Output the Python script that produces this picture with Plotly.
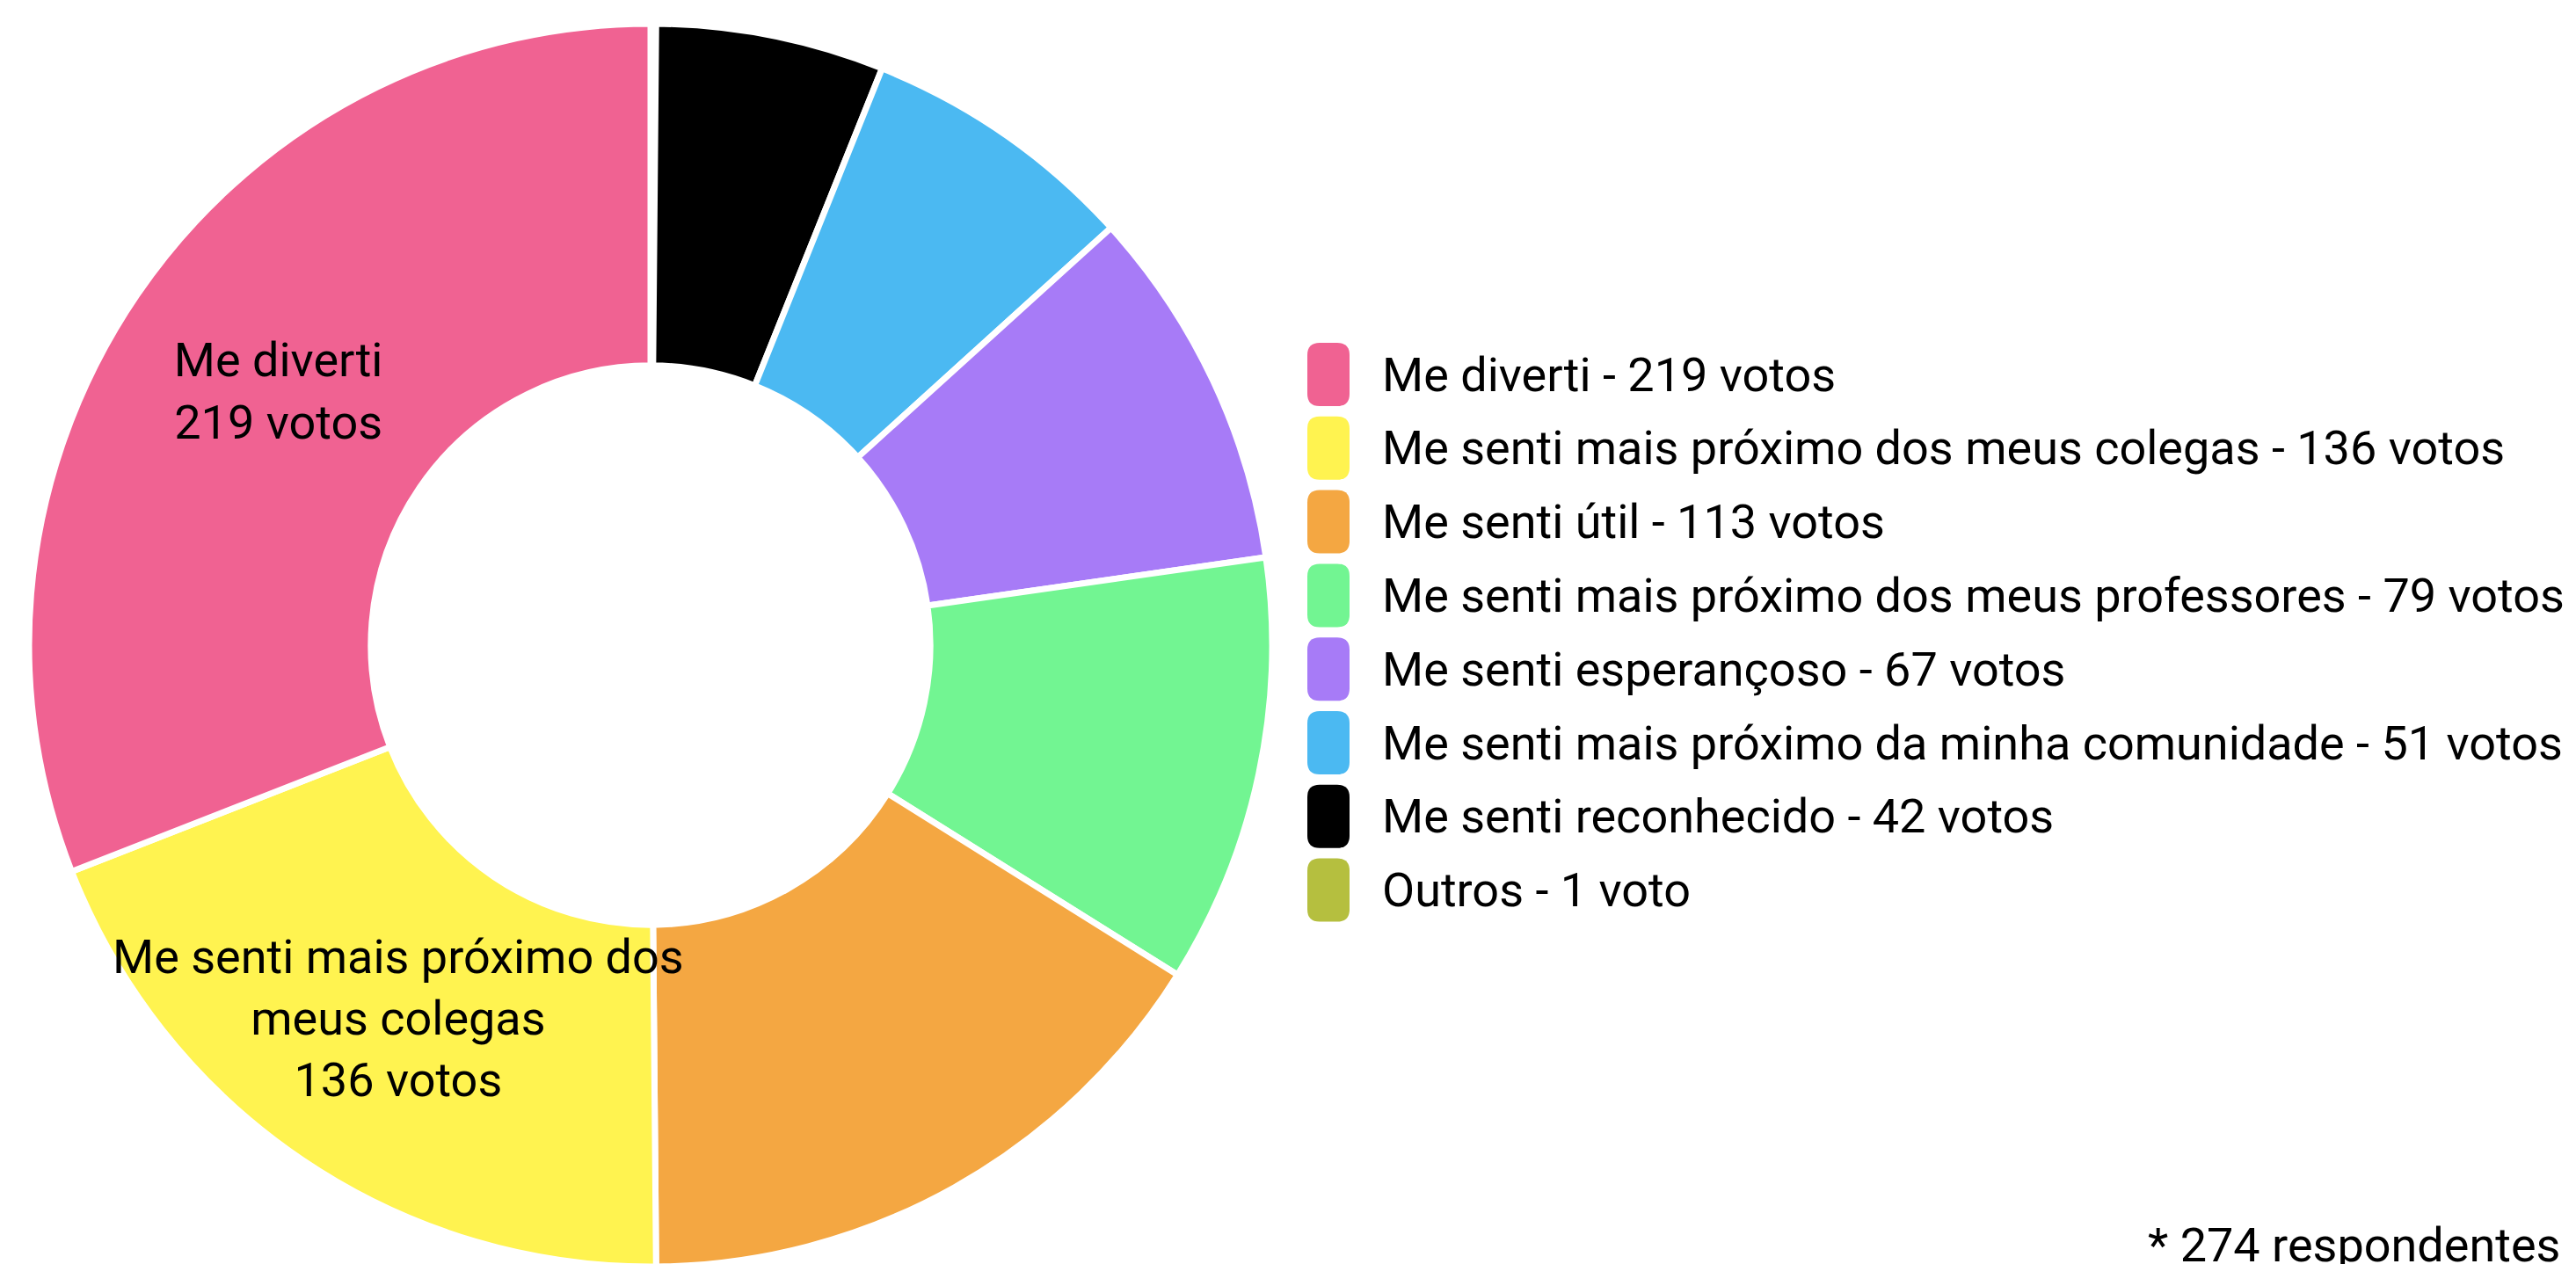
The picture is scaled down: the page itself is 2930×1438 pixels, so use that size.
import plotly.graph_objects as go

# Survey answers, largest first
categorias = [
    "Me diverti",
    "Me senti mais próximo dos meus colegas",
    "Me senti útil",
    "Me senti mais próximo dos meus professores",
    "Me senti esperançoso",
    "Me senti mais próximo da minha comunidade",
    "Me senti reconhecido",
    "Outros",
]
votos = [219, 136, 113, 79, 67, 51, 42, 1]
cores = ["#F06292", "#FFF350", "#F4A742", "#72F592", "#A77BF7", "#4BB9F2", "#000000", "#B5BF3F"]
# Labels written inside the ring (empty = no label on that slice)
rotulos_internos = ["Me diverti", "Me senti mais próximo dos<br>meus colegas", "", "", "", "", "", ""]
nota = "* 274 respondentes"

W, H = 2930, 1470
FONTE = "Roboto"
TAM = 54


def unidade(v):
    return "voto" if v == 1 else "votos"


textos = [f"{r}<br>{v} {unidade(v)}" if r else "" for r, v in zip(rotulos_internos, votos)]
legendas = [f"{c} - {v} {unidade(v)}" for c, v in zip(categorias, votos)]

# Ring placement in pixels (from the top-left corner)
cx, cy, raio = 740, 734, 707
dom_x = [(cx - raio) / W, (cx + raio) / W]
dom_y = [(H - cy - raio) / H, (H - cy + raio) / H]

# Slices go clockwise from 12 o'clock starting with the smallest, so the
# largest answer ends up on the left, ending back at the top.
fig = go.Figure(
    go.Pie(
        labels=categorias[::-1],
        values=votos[::-1],
        text=textos[::-1],
        hole=0.45,
        sort=False,
        direction="clockwise",
        rotation=0,
        marker=dict(colors=cores[::-1], line=dict(color="white", width=7)),
        textinfo="text",
        textposition="inside",
        insidetextorientation="horizontal",
        textfont=dict(family=FONTE, size=TAM, color="black"),
        hoverinfo="label+value",
        domain=dict(x=dom_x, y=dom_y),
        showlegend=False,
    )
)


def px_x(x):
    return x / W


def px_y(y):
    return (H - y) / H


def caixa_arredondada(x0, y0, x1, y1, r):
    pts = [
        ("M", [(x0 + r, y0)]),
        ("L", [(x1 - r, y0)]),
        ("Q", [(x1, y0), (x1, y0 + r)]),
        ("L", [(x1, y1 - r)]),
        ("Q", [(x1, y1), (x1 - r, y1)]),
        ("L", [(x0 + r, y1)]),
        ("Q", [(x0, y1), (x0, y1 - r)]),
        ("L", [(x0, y0 + r)]),
        ("Q", [(x0, y0), (x0 + r, y0)]),
    ]
    partes = []
    for cmd, coords in pts:
        partes.append(cmd + " ".join(f"{px_x(a):.6f},{px_y(b):.6f}" for a, b in coords))
    return " ".join(partes) + " Z"


# Legend: rounded swatches with text on the right
leg_x = 1487
leg_y0 = 426
passo = 83.8
sw_w, sw_h, sw_r = 48, 72, 14
texto_x = 1570

shapes = []
annotations = []
for i, (rotulo, cor) in enumerate(zip(legendas, cores)):
    yc = leg_y0 + i * passo
    shapes.append(
        dict(
            type="path",
            xref="paper",
            yref="paper",
            path=caixa_arredondada(leg_x, yc - sw_h / 2, leg_x + sw_w, yc + sw_h / 2, sw_r),
            fillcolor=cor,
            line=dict(width=0),
        )
    )
    annotations.append(
        dict(
            x=px_x(texto_x),
            y=px_y(yc),
            xref="paper",
            yref="paper",
            xanchor="left",
            yanchor="middle",
            text=rotulo,
            showarrow=False,
            font=dict(family=FONTE, size=TAM, color="black"),
        )
    )

annotations.append(
    dict(
        x=px_x(2914),
        y=px_y(1416),
        xref="paper",
        yref="paper",
        xanchor="right",
        yanchor="middle",
        text=nota,
        showarrow=False,
        font=dict(family=FONTE, size=TAM, color="black"),
    )
)

fig.update_layout(
    width=W,
    height=H,
    margin=dict(l=0, r=0, t=0, b=0),
    paper_bgcolor="white",
    plot_bgcolor="white",
    font=dict(family=FONTE, size=TAM, color="black"),
    uniformtext=dict(mode="show", minsize=TAM),
    shapes=shapes,
    annotations=annotations,
)

fig.write_html(
    "out.html",
    post_script="document.body.style.overflow='hidden';document.documentElement.style.overflow='hidden';",
)
